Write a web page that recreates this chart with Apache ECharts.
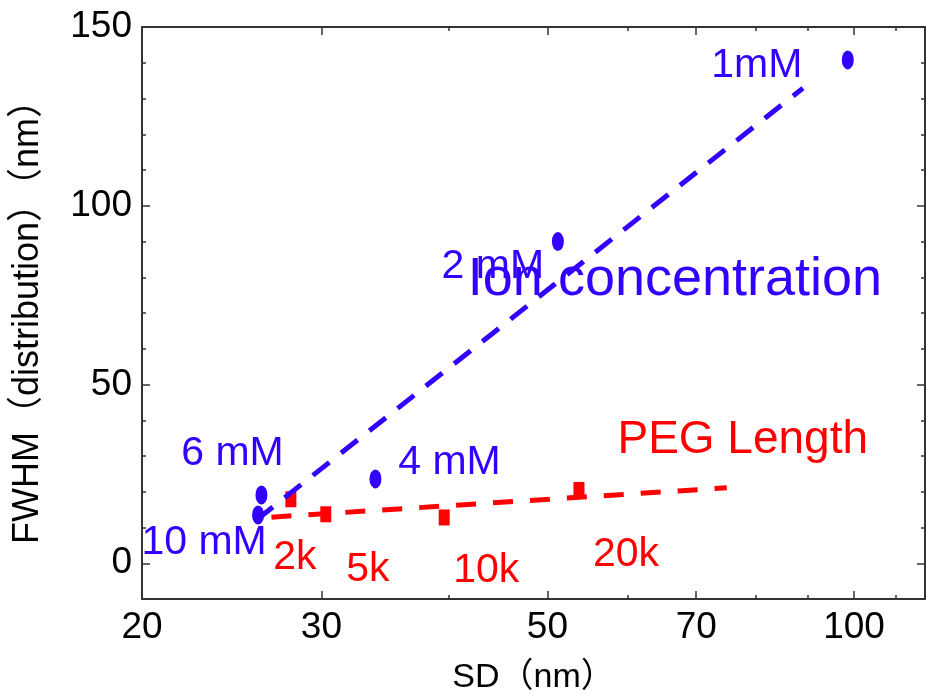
<!DOCTYPE html>
<html>
<head>
<meta charset="utf-8">
<script src="https://cdn.jsdelivr.net/npm/echarts@6/dist/echarts.min.js"></script>
<style>
    html, body { margin: 0; padding: 0; background: #fff; }
    #main { width: 926px; height: 695px; }
</style>
</head>
<body>
<div id="main"></div>
<script>
// data
var ionLabels = ['1mM', '2 mM', '4 mM', '6 mM', '10 mM'];
var ionSD = [98.6, 51.2, 33.9, 26.2, 26.0];
var ionFWHM = [140.8, 90.0, 23.6, 19.1, 13.5];

var pegLabels = ['2k', '5k', '10k', '20k'];
var pegSD = [28.0, 30.3, 39.6, 53.7];
var pegFWHM = [17.9, 13.7, 12.8, 20.5];

// dashed fit lines (two end points each)
var ionFitSD = [25.9, 89.1];
var ionFitFWHM = [12.1, 132.9];
var pegFitSD = [26.8, 75.0];
var pegFitFWHM = [12.9, 21.1];

var xMajorTicks = [20, 30, 50, 70, 100];
var xMinorTicks = [40, 60, 80, 90, 110];
var yMajorTicks = [0, 50, 100, 150];
var yMinorTicks = [10, 20, 30, 40, 60, 70, 80, 90, 110, 120, 130, 140];

// label offsets (px) from each point
var ionLabelOffsets = [[-91, 6], [-65, 25], [74, -16], [-29, -41], [-54, 28]];
var pegLabelOffsets = [[4, 58], [42, 55], [42, 53], [47, 65]];

var BLUE = '#3300ff';
var RED = '#ff0000';
var FONT = '"Liberation Sans", Arial, "Noto Sans CJK SC", sans-serif';
var AXIS = '#333';

var myChart = echarts.init(document.getElementById('main'));

function xAxisDef(pos, ticks, len, showLabel, showLine) {
    return {
        type: 'log',
        position: pos,
        min: 20,
        max: 117.4,
        axisLine: { show: showLine, onZero: false, lineStyle: { color: AXIS, width: 2 } },
        axisTick: { inside: true, length: len, customValues: ticks, lineStyle: { color: AXIS, width: 1.5 } },
        axisLabel: {
            show: showLabel, customValues: ticks, margin: 10,
            fontSize: 37, fontFamily: FONT, color: '#000'
        },
        splitLine: { show: false },
        minorTick: { show: false }
    };
}

function yAxisDef(pos, ticks, len, showLabel, showLine) {
    return {
        type: 'value',
        position: pos,
        min: -10,
        max: 150,
        axisLine: { show: showLine, onZero: false, lineStyle: { color: AXIS, width: 2 } },
        axisTick: { inside: true, length: len, customValues: ticks, lineStyle: { color: AXIS, width: 1.5 } },
        axisLabel: {
            show: showLabel, customValues: ticks, margin: 10,
            fontSize: 37, fontFamily: FONT, color: '#000'
        },
        splitLine: { show: false }
    };
}

var xAxes = [
    xAxisDef('bottom', xMajorTicks, 8, true, true),
    xAxisDef('bottom', xMinorTicks, 4, false, false),
    xAxisDef('top', xMajorTicks, 8, false, true),
    xAxisDef('top', xMinorTicks, 4, false, false)
];
xAxes[0].name = 'SD（nm）';
xAxes[0].nameLocation = 'middle';
xAxes[0].nameGap = 62;
xAxes[0].nameTextStyle = { fontSize: 34, fontFamily: FONT, color: '#000' };

var yAxes = [
    yAxisDef('left', yMajorTicks, 8, true, true),
    yAxisDef('left', yMinorTicks, 4, false, false),
    yAxisDef('right', yMajorTicks, 8, false, true),
    yAxisDef('right', yMinorTicks, 4, false, false)
];
yAxes[0].name = 'FWHM（distribution）（nm）';
yAxes[0].nameLocation = 'middle';
yAxes[0].nameGap = 96;
yAxes[0].nameTextStyle = { fontSize: 36, fontFamily: FONT, color: '#000' };

function pointData(xs, ys, names, offsets) {
    return xs.map(function (x, i) {
        return {
            value: [x, ys[i]],
            name: names[i],
            label: { offset: offsets[i] }
        };
    });
}

function fitData(xs, ys) {
    return xs.map(function (x, i) { return [x, ys[i]]; });
}

var option = {
    animation: false,
    grid: { left: 142, right: 1, top: 27, bottom: 96, outerBoundsMode: 'none' },
    xAxis: xAxes,
    yAxis: yAxes,
    series: [
        {
            type: 'scatter',
            symbol: 'rect',
            symbolSize: [11, 16],
            itemStyle: { color: RED, opacity: 1 },
            label: {
                show: true, position: 'inside', formatter: '{b}',
                fontSize: 41, fontFamily: FONT, color: RED
            },
            data: pointData(pegSD, pegFWHM, pegLabels, pegLabelOffsets),
            z: 2
        },
        {
            type: 'line',
            symbol: 'none',
            lineStyle: { color: RED, width: 5, type: [20, 17] },
            endLabel: {
                show: true, formatter: 'PEG Length', align: 'center', verticalAlign: 'middle',
                distance: 0, offset: [16, -48], fontSize: 46, fontFamily: FONT, color: RED
            },
            data: fitData(pegFitSD, pegFitFWHM),
            z: 3
        },
        {
            type: 'scatter',
            symbol: 'circle',
            symbolSize: [12, 19],
            itemStyle: { color: BLUE, opacity: 1 },
            label: {
                show: true, position: 'inside', formatter: '{b}',
                fontSize: 41, fontFamily: FONT, color: BLUE
            },
            data: pointData(ionSD, ionFWHM, ionLabels, ionLabelOffsets),
            z: 4
        },
        {
            type: 'line',
            symbol: 'none',
            lineStyle: { color: BLUE, width: 5, type: [21, 15] },
            endLabel: {
                show: true, formatter: 'Ion concentration', align: 'center', verticalAlign: 'middle',
                distance: 0, offset: [-128, 192], fontSize: 54, fontFamily: FONT, color: BLUE
            },
            data: fitData(ionFitSD, ionFitFWHM),
            z: 5
        }
    ]
};

myChart.setOption(option);
window.onresize = function () {
    myChart.resize();
};
</script>
</body>
</html>
